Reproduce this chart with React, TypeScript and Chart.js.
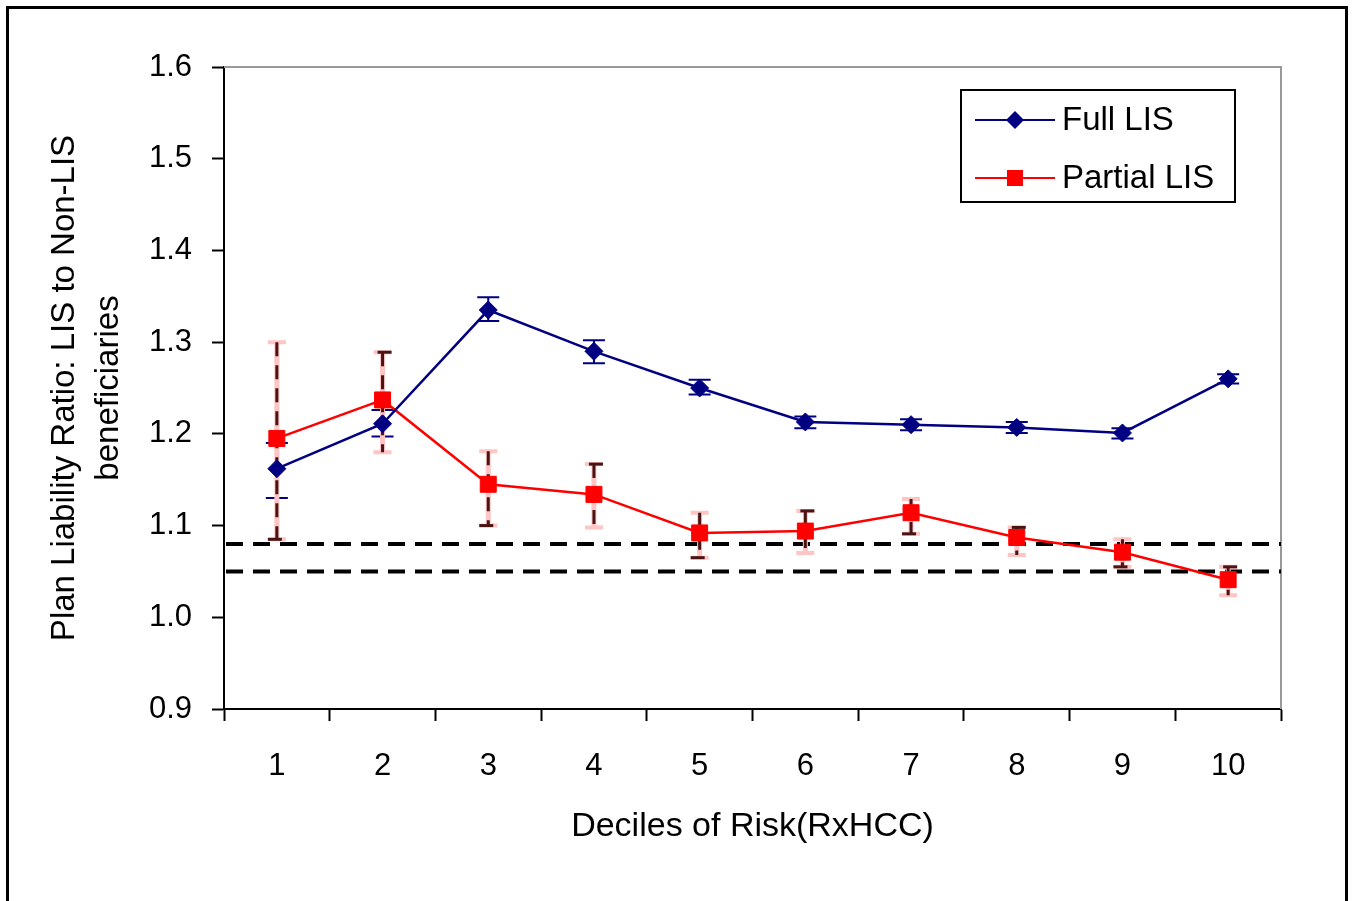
import React, { useEffect, useRef } from "react";
import { Chart, registerables } from "chart.js";

Chart.register(...registerables);

const deciles = ["1", "2", "3", "4", "5", "6", "7", "8", "9", "10"];
const fullLIS = [1.162, 1.211, 1.335, 1.29, 1.25, 1.213, 1.21, 1.207, 1.201, 1.26];
const fullLow = [1.13, 1.197, 1.323, 1.277, 1.243, 1.206, 1.204, 1.201, 1.195, 1.255];
const fullHigh = [1.19, 1.226, 1.349, 1.302, 1.259, 1.219, 1.216, 1.213, 1.206, 1.265];
const partialLIS = [1.195, 1.237, 1.145, 1.134, 1.092, 1.094, 1.114, 1.087, 1.071, 1.041];
const partialLow = [1.085, 1.18, 1.1, 1.098, 1.065, 1.07, 1.091, 1.068, 1.055, 1.024];
const partialHigh = [1.3, 1.289, 1.181, 1.167, 1.114, 1.116, 1.129, 1.098, 1.085, 1.055];
const refLines = [1.08, 1.05];
const yTitle = ["Plan Liability Ratio: LIS to Non-LIS", "beneficiaries"];
const xTitle = "Deciles of Risk(RxHCC)";

const FONT = "'Liberation Sans', Arial, sans-serif";
const NAVY = "#000080";
const RED = "#FF0000";

const framePlugin = {
  id: "frame",
  beforeDatasetsDraw(chart: any) {
    const { ctx, chartArea: a } = chart;
    ctx.save();
    ctx.strokeStyle = "#999999";
    ctx.lineWidth = 2;
    ctx.beginPath();
    ctx.moveTo(a.left, a.top);
    ctx.lineTo(a.right, a.top);
    ctx.lineTo(a.right, a.bottom);
    ctx.stroke();
    ctx.restore();
  },
};

const refLinePlugin = {
  id: "refLines",
  beforeDatasetsDraw(chart: any) {
    const { ctx, chartArea: a, scales } = chart;
    ctx.save();
    ctx.strokeStyle = "#000";
    ctx.lineWidth = 4;
    ctx.setLineDash([17, 10]);
    refLines.forEach((v) => {
      const y = scales.y.getPixelForValue(v);
      ctx.beginPath();
      ctx.moveTo(a.left + 2, y);
      ctx.lineTo(a.right, y);
      ctx.stroke();
    });
    ctx.restore();
  },
};

const errorBarPlugin = {
  id: "errorBars",
  beforeDatasetsDraw(chart: any) {
    const { ctx, scales } = chart;
    const xs = scales.x;
    const ys = scales.y;
    ctx.save();
    // Full LIS error bars
    ctx.strokeStyle = NAVY;
    ctx.lineWidth = 2;
    fullLIS.forEach((_, i) => {
      const x = xs.getPixelForValue(i);
      const y1 = ys.getPixelForValue(fullLow[i]);
      const y2 = ys.getPixelForValue(fullHigh[i]);
      ctx.beginPath();
      ctx.moveTo(x, y1);
      ctx.lineTo(x, y2);
      ctx.moveTo(x - 11, y1);
      ctx.lineTo(x + 11, y1);
      ctx.moveTo(x - 11, y2);
      ctx.lineTo(x + 11, y2);
      ctx.stroke();
    });
    // Partial LIS error bars
    partialLIS.forEach((_, i) => {
      const x = xs.getPixelForValue(i);
      const y1 = ys.getPixelForValue(partialLow[i]);
      const y2 = ys.getPixelForValue(partialHigh[i]);
      ctx.setLineDash([]);
      ctx.strokeStyle = "#FFC4C4";
      ctx.lineWidth = 5;
      ctx.beginPath();
      ctx.moveTo(x, y1);
      ctx.lineTo(x, y2);
      ctx.stroke();
      ctx.lineWidth = 4;
      ctx.beginPath();
      ctx.moveTo(x - 9, y1);
      ctx.lineTo(x + 9, y1);
      ctx.moveTo(x - 9, y2);
      ctx.lineTo(x + 9, y2);
      ctx.stroke();
      ctx.strokeStyle = "#4A1414";
      ctx.lineWidth = 3;
      ctx.setLineDash([14, 9]);
      ctx.beginPath();
      ctx.moveTo(x, y2);
      ctx.lineTo(x, y1);
      ctx.stroke();
      ctx.setLineDash([]);
      ctx.lineWidth = 3;
      ctx.beginPath();
      if (i % 2 === 0) {
        ctx.moveTo(x - 9, y1);
        ctx.lineTo(x + 5, y1);
      } else {
        ctx.moveTo(x - 5, y2);
        ctx.lineTo(x + 9, y2);
      }
      ctx.stroke();
    });
    ctx.restore();
  },
};

const legendPlugin = {
  id: "boxLegend",
  afterDraw(chart: any) {
    const { ctx } = chart;
    const box = { x: 961, y: 90, w: 274, h: 112 };
    ctx.save();
    ctx.fillStyle = "#fff";
    ctx.fillRect(box.x, box.y, box.w, box.h);
    ctx.strokeStyle = "#000";
    ctx.lineWidth = 2;
    ctx.strokeRect(box.x, box.y, box.w, box.h);
    const items = chart.data.datasets.map((d: any) => d);
    items.forEach((d: any, k: number) => {
      const cy = box.y + 30 + k * 58;
      ctx.strokeStyle = d.borderColor;
      ctx.lineWidth = 2;
      ctx.beginPath();
      ctx.moveTo(975, cy);
      ctx.lineTo(1055, cy);
      ctx.stroke();
      ctx.fillStyle = d.backgroundColor;
      ctx.beginPath();
      if (d.pointStyle === "rectRot") {
        const r = 9;
        ctx.moveTo(1015 - r, cy);
        ctx.lineTo(1015, cy - r);
        ctx.lineTo(1015 + r, cy);
        ctx.lineTo(1015, cy + r);
        ctx.closePath();
      } else {
        ctx.rect(1015 - 8, cy - 8, 16, 16);
      }
      ctx.fill();
      ctx.fillStyle = "#000";
      ctx.font = `33px ${FONT}`;
      ctx.textBaseline = "middle";
      ctx.textAlign = "left";
      ctx.fillText(d.label, 1062, cy + 1);
    });
    ctx.restore();
  },
};

export default function App() {
  const ref = useRef<HTMLCanvasElement | null>(null);
  useEffect(() => {
    if (!ref.current) return;
    const chart = new Chart(ref.current, {
      type: "line",
      data: {
        labels: deciles,
        datasets: [
          {
            label: "Full LIS",
            data: fullLIS,
            borderColor: NAVY,
            backgroundColor: NAVY,
            borderWidth: 2.5,
            pointStyle: "rectRot",
            pointRadius: 9,
            pointBorderWidth: 1,
            pointHoverRadius: 9,
          },
          {
            label: "Partial LIS",
            data: partialLIS,
            borderColor: RED,
            backgroundColor: RED,
            borderWidth: 2.5,
            pointStyle: "rect",
            pointRadius: 11.3,
            pointBorderWidth: 1,
            pointHoverRadius: 11.3,
          },
        ],
      },
      options: {
        responsive: false,
        animation: false,
        devicePixelRatio: 1,
        layout: { padding: { left: 0, right: 72, top: 67, bottom: 0 } },
        plugins: {
          legend: { display: false },
          tooltip: { enabled: false },
        },
        scales: {
          x: {
            type: "category",
            offset: true,
            afterFit: (s: any) => {
              s.height = 192;
            },
            grid: {
              offset: true,
              drawOnChartArea: false,
              drawTicks: true,
              tickLength: 12,
              tickWidth: 2,
              tickColor: "#000",
            },
            border: { display: true, color: "#000", width: 2 },
            ticks: {
              color: "#000",
              padding: 27,
              font: { family: FONT, size: 31 },
              maxRotation: 0,
            },
            title: {
              display: true,
              text: xTitle,
              color: "#000",
              font: { family: FONT, size: 34, lineHeight: 1.4 },
              padding: { top: 0, bottom: 51 },
            },
          },
          y: {
            min: 0.9,
            max: 1.6,
            afterFit: (s: any) => {
              s.width = 224;
            },
            grid: {
              drawOnChartArea: false,
              drawTicks: true,
              tickLength: 12,
              tickWidth: 2,
              tickColor: "#000",
            },
            border: { display: true, color: "#000", width: 2 },
            ticks: {
              stepSize: 0.1,
              color: "#000",
              padding: 20,
              font: { family: FONT, size: 31 },
              callback: (v: any) => Number(v).toFixed(1),
            },
            title: {
              display: true,
              text: yTitle,
              color: "#000",
              font: { family: FONT, size: 33, lineHeight: 1.36 },
              padding: { top: 42, bottom: 0 },
            },
          },
        },
      },
      plugins: [framePlugin, refLinePlugin, errorBarPlugin, legendPlugin],
    } as any);
    return () => chart.destroy();
  }, []);

  return (
    <div
      style={{
        position: "absolute",
        left: 0,
        top: 0,
        width: 1353,
        height: 901,
        overflow: "hidden",
        background: "#fff",
      }}
    >
      <div
        style={{
          position: "absolute",
          left: 6,
          top: 6,
          width: 1336,
          height: 1000,
          border: "3px solid #000",
        }}
      />
      <canvas
        ref={ref}
        width={1353}
        height={901}
        style={{ position: "absolute", left: 0, top: 0 }}
      />
    </div>
  );
}
